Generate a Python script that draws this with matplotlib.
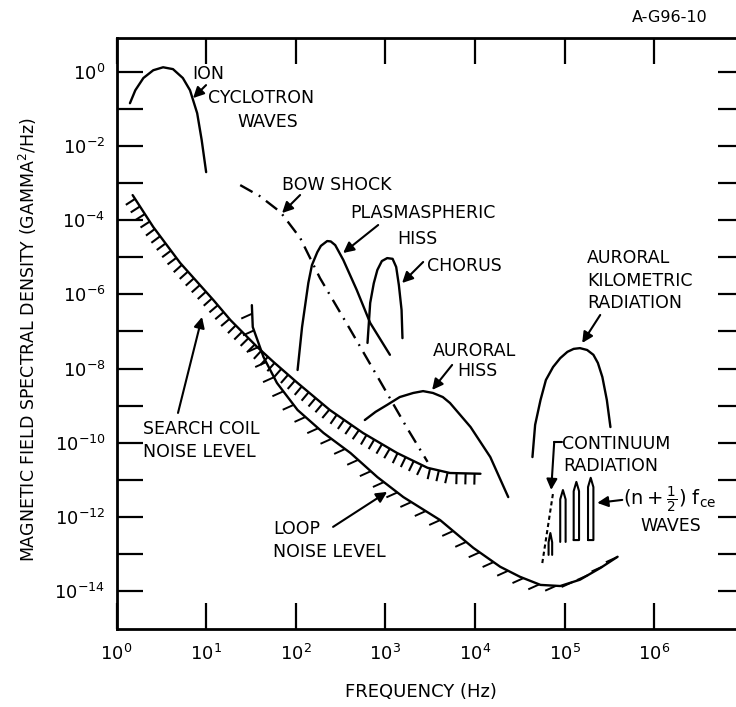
import numpy as np
import matplotlib
matplotlib.use('Agg')
import matplotlib.pyplot as plt
from matplotlib.collections import LineCollection
from matplotlib.ticker import NullLocator

plt.rcParams['font.family'] = 'DejaVu Sans'
plt.rcParams['mathtext.fontset'] = 'dejavusans'

# all values are log10(frequency / Hz) and log10(density / gamma^2 Hz^-1)
ion_f = [0.15, 0.21, 0.30, 0.41, 0.52, 0.63, 0.74, 0.82, 0.90, 0.95, 1.00]
ion_s = [-0.84, -0.49, -0.16, 0.05, 0.13, 0.08, -0.16, -0.49, -1.11, -1.83, -2.70]

bow_f = [1.38, 1.60, 1.83, 2.05, 2.27, 2.61, 2.94, 3.24, 3.47]
bow_s = [-3.05, -3.35, -3.78, -4.48, -5.56, -6.96, -8.34, -9.60, -10.52]

phiss_f = [2.02, 2.07, 2.14, 2.18, 2.24, 2.28, 2.35, 2.39, 2.44, 2.53, 2.68, 2.83, 3.05]
phiss_s = [-8.04, -6.88, -5.69, -5.21, -4.86, -4.69, -4.56, -4.57, -4.67, -5.07, -5.88, -6.77, -7.63]

chorus_f = [2.80, 2.83, 2.87, 2.91, 2.96, 3.02, 3.08, 3.12, 3.15, 3.18, 3.19]
chorus_s = [-7.31, -6.23, -5.70, -5.34, -5.10, -5.02, -5.04, -5.26, -5.75, -6.42, -7.18]

ahiss_f = [2.77, 2.89, 3.02, 3.16, 3.31, 3.42, 3.53, 3.64, 3.72, 3.95, 4.17, 4.37]
ahiss_s = [-9.39, -9.17, -8.98, -8.77, -8.66, -8.61, -8.66, -8.77, -8.93, -9.58, -10.39, -11.47]

akr_f = [4.64, 4.67, 4.73, 4.79, 4.87, 4.95, 5.03, 5.10, 5.17, 5.25, 5.32, 5.37, 5.42, 5.47, 5.51]
akr_s = [-10.39, -9.52, -8.85, -8.31, -7.96, -7.72, -7.55, -7.47, -7.45, -7.50, -7.63, -7.85, -8.23, -8.85, -9.58]

coil_f = [0.18, 0.41, 0.71, 1.08, 1.27, 1.57, 1.75, 2.02, 2.38, 2.75, 3.13, 3.47, 3.72, 4.06]
coil_s = [-3.32, -4.18, -5.15, -6.15, -6.69, -7.42, -7.82, -8.39, -9.12, -9.74, -10.28, -10.68, -10.82, -10.84]

loop_f = [1.51, 1.52, 1.64, 1.79, 2.02, 2.31, 2.61, 2.91, 3.20, 3.61, 3.98, 4.28, 4.50, 4.73, 4.95, 5.17, 5.40, 5.59]
loop_s = [-6.29, -6.88, -7.69, -8.39, -9.12, -9.74, -10.28, -10.93, -11.47, -12.09, -12.84, -13.35, -13.62,
          -13.84, -13.87, -13.70, -13.38, -13.08]

cont_f = [4.75, 4.87]
cont_s = [-13.25, -11.36]

# (n+1/2) fce emission spikes
spike_lo = [4.82, 4.95, 5.10, 5.26]
spike_hi = [4.86, 5.01, 5.16, 5.32]
spike_top = [-12.44, -11.28, -11.06, -10.95]
spike_base = [-13.03, -12.68, -12.63, -12.63]

xdec = list(range(0, 7))
ydec = list(range(-14, 1))

fig = plt.figure(figsize=(7.36, 7.07), dpi=100)
ax = fig.add_axes([116.5 / 736, 1 - 629 / 707, 627.5 / 736, 591 / 707])
ax.set_xscale('log')
ax.set_yscale('log')
ax.set_xlim(1, 1e7)
ax.set_ylim(10 ** -15.03, 10 ** 0.92)


def P(a):
    return 10 ** np.asarray(a, dtype=float)


def curve(lf, ls, **kw):
    kw.setdefault('lw', 1.7)
    ax.plot(P(lf), P(ls), color='k', solid_capstyle='round', solid_joinstyle='round', **kw)


def hatch(lf, ls, step, length, direction=None, lw=1.4):
    pts = ax.transData.transform(np.column_stack([P(lf), P(ls)]))
    seg = np.diff(pts, axis=0)
    seglen = np.hypot(seg[:, 0], seg[:, 1])
    cum = np.concatenate([[0], np.cumsum(seglen)])
    s = np.arange(step / 2, cum[-1], step)
    x = np.interp(s, cum, pts[:, 0])
    y = np.interp(s, cum, pts[:, 1])
    idx = np.clip(np.searchsorted(cum, s) - 1, 0, len(seg) - 1)
    t = seg[idx] / seglen[idx][:, None]
    if direction is None:
        d = np.column_stack([t[:, 1], -t[:, 0]])
    else:
        d = np.tile(np.array(direction) / np.hypot(*direction), (len(s), 1))
    a = np.column_stack([x, y])
    b = a + length * d
    inv = ax.transData.inverted()
    segs = [inv.transform(np.array([p, q])) for p, q in zip(a, b)]
    ax.add_collection(LineCollection(segs, colors='k', linewidths=lw))


curve(ion_f, ion_s)
curve(bow_f, bow_s, linestyle=(0, (6, 3, 0.8, 3)))
curve(phiss_f, phiss_s)
curve(chorus_f, chorus_s)
curve(ahiss_f, ahiss_s)
curve(akr_f, akr_s)
curve(coil_f, coil_s)
hatch(coil_f, coil_s, 9, 11, lw=1.5)
curve(loop_f, loop_s)
hatch(loop_f, loop_s, 17, 12, direction=(-1, -0.45))
curve(cont_f, cont_s, linestyle=(0, (2, 1.5)), lw=1.5)

for i in range(len(spike_lo)):
    lo, hi, top, base = spike_lo[i], spike_hi[i], spike_top[i], spike_base[i]
    xs = [lo, lo, (lo + hi) / 2, hi, hi]
    ys = [base, top - 0.25, top, top - 0.25, base]
    if i >= 2:
        xs = xs + [lo]
        ys = ys + [base]
    curve(xs, ys, lw=1.5)

# text labels: (text, log f of left edge, log S of baseline)
labels = [
    ('ION', 0.843, -0.175),
    ('CYCLOTRON', 1.021, -0.822),
    ('WAVES', 1.345, -1.470),
    ('BOW SHOCK', 1.847, -3.169),
    ('PLASMASPHERIC', 2.606, -3.925),
    ('HISS', 3.131, -4.653),
    ('CHORUS', 3.465, -5.381),
    ('AURORAL', 3.532, -7.674),
    ('HISS', 3.800, -8.214),
    ('AURORAL', 5.251, -5.165),
    ('KILOMETRIC', 5.251, -5.786),
    ('RADIATION', 5.251, -6.379),
    ('CONTINUUM', 4.972, -10.183),
    ('RADIATION', 4.983, -10.776),
    ('WAVES', 5.843, -12.395),
    ('SEARCH COIL', 0.296, -9.778),
    ('NOISE LEVEL', 0.296, -10.399),
    ('LOOP', 1.747, -12.476),
    ('NOISE LEVEL', 1.747, -13.096),
]
for txt, lf, ls in labels:
    ax.text(10 ** lf, 10 ** ls, txt, fontsize=12.5, ha='left', va='baseline')

ax.text(10 ** 5.653, 10 ** -11.546, r'$(\mathrm{n}+\frac{1}{2})\ \mathrm{f}_{\mathrm{ce}}$',
        fontsize=14, ha='left', va='center')

# arrows: (tail, tip) in log coords
arrows = [
    ((0.999, -0.351), (0.854, -0.701)),
    ((2.048, -3.318), (1.847, -3.804)),
    ((2.919, -4.127), (2.528, -4.883)),
    ((3.421, -5.125), (3.186, -5.692)),
    ((3.744, -7.904), (3.521, -8.578)),
    ((5.396, -6.555), (5.195, -7.310)),
    ((4.883, -9.981), (4.849, -11.276)),
    ((5.642, -11.546), (5.363, -11.627)),
    ((0.686, -9.199), (0.954, -6.609)),
    ((2.416, -12.274), (3.019, -11.330)),
]
for tail, tip in arrows:
    ax.annotate('', xy=(10 ** tip[0], 10 ** tip[1]), xytext=(10 ** tail[0], 10 ** tail[1]),
                arrowprops=dict(arrowstyle='-|>', color='k', lw=1.5, mutation_scale=16,
                                shrinkA=0, shrinkB=0))
curve([4.972, 4.883], [-9.981, -9.981], lw=1.5)

ax.set_xticks(P(xdec))
ax.set_xticklabels([rf'$10^{{{k}}}$' for k in xdec])
ax.set_yticks(P(ydec))
ax.set_yticklabels([rf'$10^{{{k}}}$' if k % 2 == 0 else '' for k in ydec])
ax.xaxis.set_minor_locator(NullLocator())
ax.yaxis.set_minor_locator(NullLocator())
ax.tick_params(direction='in', length=19, width=1.6, top=True, right=True, labelsize=13)
ax.tick_params(axis='x', pad=11)
ax.tick_params(axis='y', pad=8)
for sp in ax.spines.values():
    sp.set_linewidth(2)

fig.text(28 / 736, 1 - 340 / 707, 'MAGNETIC FIELD SPECTRAL DENSITY (GAMMA$^2$/Hz)',
         rotation=90, ha='center', va='center', fontsize=12.5)
fig.text(421 / 736, 1 - 692 / 707, 'FREQUENCY (Hz)', ha='center', va='center', fontsize=13)
fig.text(670 / 736, 1 - 18 / 707, 'A-G96-10', ha='center', va='center', fontsize=11.5)

fig.savefig('out.png', dpi=100)
